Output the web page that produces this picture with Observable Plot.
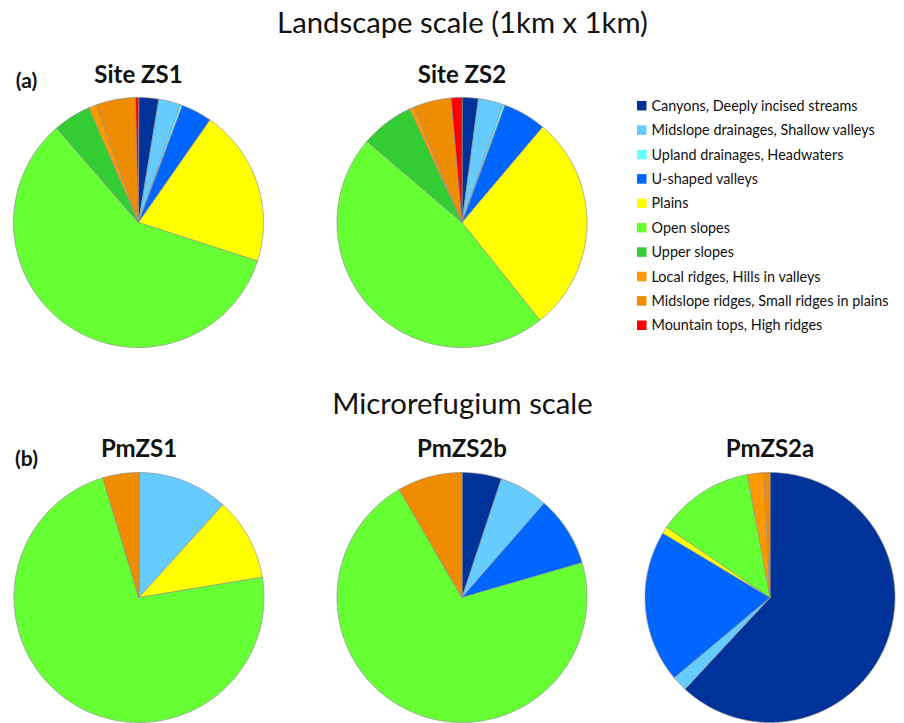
<!DOCTYPE html>
<html>
<head>
<meta charset="utf-8">
<script src="https://cdn.jsdelivr.net/npm/d3@7"></script>
<script src="https://cdn.jsdelivr.net/npm/@observablehq/plot@0.6"></script>
<style>
  html, body { margin: 0; padding: 0; background: #fff; }
  #chart svg { display: block; }
</style>
</head>
<body>
<div id="chart"></div>
<script>
// ---- Data ----
const categories = [
  "Canyons, Deeply incised streams",
  "Midslope drainages, Shallow valleys",
  "Upland drainages, Headwaters",
  "U-shaped valleys",
  "Plains",
  "Open slopes",
  "Upper slopes",
  "Local ridges, Hills in valleys",
  "Midslope ridges, Small ridges in plains",
  "Mountain tops, High ridges"
];
const colors = [
  "#003399", "#66ccff", "#66ffff", "#0066ff", "#ffff00",
  "#66ff33", "#33cc33", "#ff9900", "#f08c00", "#ff0000"
];
// percentages per category (legend order), clockwise from 12 o'clock
const siteZS1 = [2.6, 2.8, 0.3, 4.0, 20.3, 58.7, 4.9, 1.0, 5.1, 0.4];
const siteZS2 = [2.1, 3.2, 0.3, 5.6, 28.2, 47.1, 6.9, 0.6, 4.9, 1.4];
const pmZS1   = [0, 11.7, 0, 0, 10.7, 72.9, 0, 0, 4.7, 0];
const pmZS2b  = [5.1, 6.3, 0, 9.1, 0, 71.1, 0, 0, 8.4, 0];
const pmZS2a  = [61.9, 2.0, 0, 19.7, 0.9, 12.6, 0, 2.1, 0.8, 0];
const pieNames = ["Site ZS1", "Site ZS2", "PmZS1", "PmZS2b", "PmZS2a"];
const pieValues = [siteZS1, siteZS2, pmZS1, pmZS2b, pmZS2a];
const sectionTitles = ["Landscape scale (1km x 1km)", "Microrefugium scale"];
const panelLabels = ["(a)", "(b)"];

// ---- Layout ----
const W = 904, H = 723, R = 125;
const pieLayout = [
  {cx: 138, cy: 222}, {cx: 461.5, cy: 222},
  {cx: 138.5, cy: 597}, {cx: 461.5, cy: 597}, {cx: 769.5, cy: 597}
];
const pieTitleY = [82, 82, 456, 456, 456];

// ---- Build slice polygons from values ----
const slicePts = [];
pieValues.forEach((vals, p) => {
  const {cx, cy} = pieLayout[p];
  const total = d3.sum(vals);
  let acc = 0;
  vals.forEach((v, i) => {
    if (v <= 0) return;
    const a0 = acc / total * 2 * Math.PI;
    acc += v;
    const a1 = acc / total * 2 * Math.PI;
    const id = p + "-" + i;
    slicePts.push({id, cat: categories[i], x: cx, y: cy});
    const n = Math.max(2, Math.ceil((a1 - a0) / (Math.PI / 360)));
    for (let k = 0; k <= n; k++) {
      const a = a0 + (a1 - a0) * k / n;
      slicePts.push({id, cat: categories[i], x: cx + R * Math.sin(a), y: cy - R * Math.cos(a)});
    }
  });
});

const legendX = 637, legendY0 = 105.7, legendDy = 24.4;
const legendRows = categories.map((c, i) => ({cat: c, y: legendY0 + i * legendDy}));

const font = "Lato, 'Open Sans', sans-serif";

const chart = Plot.plot({
  width: W, height: H,
  margin: 0,
  style: {background: "#fff", fontFamily: font},
  x: {domain: [0, W], range: [0, W], axis: null},
  y: {domain: [0, H], range: [0, H], axis: null},
  color: {domain: categories, range: colors},
  marks: [
    Plot.line(slicePts, {
      x: "x", y: "y", z: "id", fill: "cat",
      stroke: "#8f8f8f", strokeWidth: 0.7, curve: "linear-closed", strokeLinejoin: "round"
    }),
    // section titles
    Plot.text(sectionTitles, {
      x: 462, y: (d, i) => [32, 413][i], text: d => d,
      fontSize: 29.3, fontFamily: font, fill: "#111", lineAnchor: "bottom"
    }),
    // panel labels
    Plot.text(panelLabels, {
      x: 26, y: (d, i) => [87, 465][i], text: d => d,
      fontSize: 21, fontWeight: "bold", fontFamily: font, fill: "#111", lineAnchor: "bottom"
    }),
    // pie titles
    Plot.text(pieNames, {
      x: (d, i) => pieLayout[i].cx, y: (d, i) => pieTitleY[i], text: d => d,
      fontSize: 24, fontWeight: "bold", fontFamily: font, fill: "#111", lineAnchor: "bottom"
    }),
    // legend
    Plot.rect(legendRows, {
      x1: legendX, x2: legendX + 9.5,
      y1: d => d.y - 4.75, y2: d => d.y + 4.75,
      fill: "cat"
    }),
    Plot.text(legendRows, {
      x: legendX + 14, y: "y", text: "cat",
      textAnchor: "start", fontSize: 14.4, fontFamily: font, fill: "#111"
    })
  ]
});
document.getElementById("chart").appendChild(chart);
</script>
</body>
</html>
